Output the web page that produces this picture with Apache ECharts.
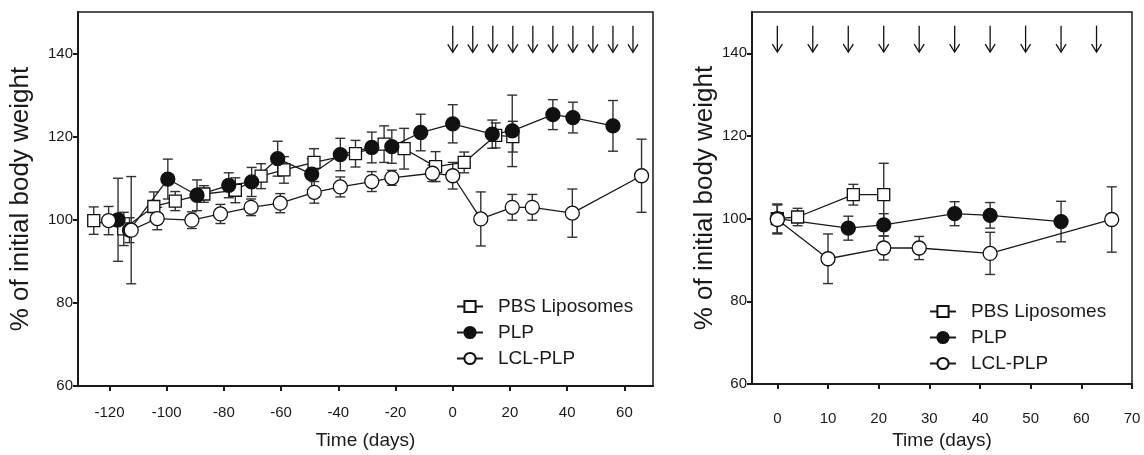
<!DOCTYPE html>
<html><head><meta charset="utf-8">
<script src="https://cdn.jsdelivr.net/npm/echarts@6/dist/echarts.min.js"></script>
<style>html,body{margin:0;padding:0;background:#fff}#c{width:1144px;height:455px}</style>
</head><body><div id="c"></div>
<script>
// ---------- Left panel data ----------
const pbsLeftDays = [-125.5,-115,-104.5,-97,-87,-76,-67,-59,-48.5,-34,-24,-17,-6,4,15,21];
const pbsLeftMean = [99.8,97.8,103.2,104.5,106.2,107.1,110.5,112,113.8,115.9,118.2,117.1,112.8,113.8,120.3,120];
const pbsLeftErr  = [3.3,4,3.5,2.3,2,3,3,3.2,3.3,3.2,4.4,4.9,3.6,2.5,3,3.7];

const plpLeftDays = [-117,-113,-99.6,-89.4,-78.3,-70.3,-61.2,-49.3,-39.3,-28.3,-21.3,-11.2,0,13.8,20.8,35,42,56];
const plpLeftMean = [100,97.5,109.8,105.9,108.3,109.1,114.7,111,115.7,117.4,117.6,121,123.1,120.6,121.4,125.3,124.6,122.6];
const plpLeftErr  = [10,3,4.8,3.7,3,3.5,4.2,3.7,3.9,3.7,4,4.4,4.6,3.4,8.6,3.6,3.7,6.1];

const lclLeftDays = [-120.3,-112.4,-103.3,-91.2,-81.2,-70.5,-60.3,-48.4,-39.3,-28.3,-21.3,-7.1,0,9.8,20.8,27.8,41.8,66];
const lclLeftMean = [99.8,97.5,100.3,99.9,101.4,103,104,106.6,107.9,109.2,110.1,111.2,110.6,100.2,103,103,101.6,110.6];
const lclLeftErr  = [3.4,12.9,2.7,2,2.3,2,2.3,2.6,2.4,2.4,1.8,2,3.2,6.5,3.1,3.1,5.8,8.8];

// ---------- Right panel data ----------
const pbsRightDays = [0,4,15,21];
const pbsRightMean = [100,100.4,105.8,105.8];
const pbsRightErr  = [3.5,2.1,2.5,7.6];

const plpRightDays = [0,14,21,35,42,56];
const plpRightMean = [100,97.7,98.5,101.2,100.8,99.3];
const plpRightErr  = [3.5,2.9,2.7,2.9,3.1,4.9];

const lclRightDays = [0,10,21,28,42,66];
const lclRightMean = [99.8,90.3,92.9,92.9,91.6,99.8];
const lclRightErr  = [3.5,6,2.9,2.8,5.1,7.9];

// treatment arrows (days)
const arrowDaysLeft  = [0,7,14,21,28,35,42,49,56,63];
const arrowDaysRight = [0,7,14,21,28,35,42,49,56,63];
const arrowTop = 146.7, arrowBottom = 140.3;

// tick labels
const yTicks = [60,80,100,120,140];
const xTicksLeft = [-120,-100,-80,-60,-40,-20,0,20,40,60];
const xTicksRight = [0,10,20,30,40,50,60,70];

const names = ['PBS Liposomes','PLP','LCL-PLP'];
const FONT = 'Liberation Sans, Arial, Helvetica, sans-serif';
const INK = '#1a1a1a';

function zip(d,m){return d.map((x,i)=>[x,m[i]]);}
function errData(d,m,e){return d.map((x,i)=>[x,m[i]-e[i],m[i]+e[i]]);}

function errRender(params, api){
  const x=api.value(0), lo=api.value(1), hi=api.value(2);
  const p1=api.coord([x,hi]), p2=api.coord([x,lo]);
  const w=5, st={stroke:'#333',lineWidth:1.4,fill:null};
  return {type:'group',children:[
    {type:'line',shape:{x1:p1[0],y1:p1[1],x2:p2[0],y2:p2[1]},style:st},
    {type:'line',shape:{x1:p1[0]-w,y1:p1[1],x2:p1[0]+w,y2:p1[1]},style:st},
    {type:'line',shape:{x1:p2[0]-w,y1:p2[1],x2:p2[0]+w,y2:p2[1]},style:st}
  ]};
}
function arrowRender(params, api){
  const x=api.value(0);
  const a=api.coord([x,arrowTop]), b=api.coord([x,arrowBottom]);
  const st={stroke:'#111',lineWidth:1.3,fill:null};
  return {type:'group',children:[
    {type:'line',shape:{x1:a[0],y1:a[1],x2:b[0],y2:b[1]},style:st},
    {type:'polyline',shape:{points:[[b[0]-5,b[1]-8],[b[0],b[1]],[b[0]+5,b[1]-8]]},style:st}
  ]};
}

function errSeries(idx,d,m,e){
  return {type:'custom',xAxisIndex:idx,yAxisIndex:idx,renderItem:errRender,
    data:errData(d,m,e),encode:{x:0,y:[1,2]},z:1,silent:true};
}
function lineSeries(idx,name,d,m){
  const filled = name==='PLP';
  return {type:'line',name:name,xAxisIndex:idx,yAxisIndex:idx,data:zip(d,m),
    symbol: name==='PBS Liposomes'?'rect':'circle',
    symbolSize: name==='PBS Liposomes'?12:14,
    showAllSymbol:true,
    lineStyle:{color:INK,width:1.3},
    itemStyle:{color: filled?'#111':'#fff',borderColor:'#111',borderWidth:1.3},
    emphasis:{disabled:true},z:3,animation:false};
}

function xAxis(idx,min,max,ticks,margin){
  return {type:'value',gridIndex:idx,min:min,max:max,
    name:'Time (days)',nameLocation:'middle',nameGap:idx===0?45:47,
    nameTextStyle:{fontFamily:FONT,fontSize:19,color:INK},
    axisLine:{show:true,onZero:false,lineStyle:{color:INK,width:2}},
    axisTick:{show:true,customValues:ticks,length:5,lineStyle:{color:INK,width:2}},
    axisLabel:{customValues:ticks,fontFamily:FONT,fontSize:15,color:INK,margin:margin},
    splitLine:{show:false}};
}
function yAxis(idx,gap){
  return {type:'value',gridIndex:idx,min:60,max:150,
    name:'% of initial body weight',nameLocation:'middle',nameGap:gap,
    nameTextStyle:{fontFamily:FONT,fontSize:26,color:INK},
    axisLine:{show:true,onZero:false,lineStyle:{color:INK,width:2}},
    axisTick:{show:true,customValues:yTicks,length:5,lineStyle:{color:INK,width:2}},
    axisLabel:{customValues:yTicks,fontFamily:FONT,fontSize:15,color:INK,margin:5},
    splitLine:{show:false}};
}
function legend(left,top){
  return {data:names,orient:'vertical',left:left,top:top,itemWidth:26,itemHeight:14,itemGap:7,
    selectedMode:false,textStyle:{fontFamily:FONT,fontSize:19,color:INK,padding:[0,0,0,10]}};
}

const option = {
  animation:false,
  backgroundColor:'#fff',
  grid:[
    {left:76,right:491,top:12,bottom:61,show:true,borderColor:INK,borderWidth:1.5,backgroundColor:'transparent'},
    {left:752,right:12,top:12,bottom:61,show:true,borderColor:INK,borderWidth:1.5,backgroundColor:'transparent'}
  ],
  xAxis:[xAxis(0,-131,70,xTicksLeft,19), xAxis(1,-5,70,xTicksRight,27)],
  yAxis:[yAxis(0,44), yAxis(1,30)],
  legend:[legend(451,292), legend(924,297)],
  series:[
    errSeries(0,pbsLeftDays,pbsLeftMean,pbsLeftErr),
    errSeries(0,plpLeftDays,plpLeftMean,plpLeftErr),
    errSeries(0,lclLeftDays,lclLeftMean,lclLeftErr),
    lineSeries(0,'PBS Liposomes',pbsLeftDays,pbsLeftMean),
    lineSeries(0,'PLP',plpLeftDays,plpLeftMean),
    lineSeries(0,'LCL-PLP',lclLeftDays,lclLeftMean),
    errSeries(1,pbsRightDays,pbsRightMean,pbsRightErr),
    errSeries(1,plpRightDays,plpRightMean,plpRightErr),
    errSeries(1,lclRightDays,lclRightMean,lclRightErr),
    lineSeries(1,'PBS Liposomes',pbsRightDays,pbsRightMean),
    lineSeries(1,'PLP',plpRightDays,plpRightMean),
    lineSeries(1,'LCL-PLP',lclRightDays,lclRightMean),
    {type:'custom',xAxisIndex:0,yAxisIndex:0,renderItem:arrowRender,data:arrowDaysLeft.map(d=>[d]),encode:{x:0},silent:true},
    {type:'custom',xAxisIndex:1,yAxisIndex:1,renderItem:arrowRender,data:arrowDaysRight.map(d=>[d]),encode:{x:0},silent:true}
  ]
};
const chart = echarts.init(document.getElementById('c'),null,{renderer:'canvas'});
chart.setOption(option);
</script>
</body></html>
